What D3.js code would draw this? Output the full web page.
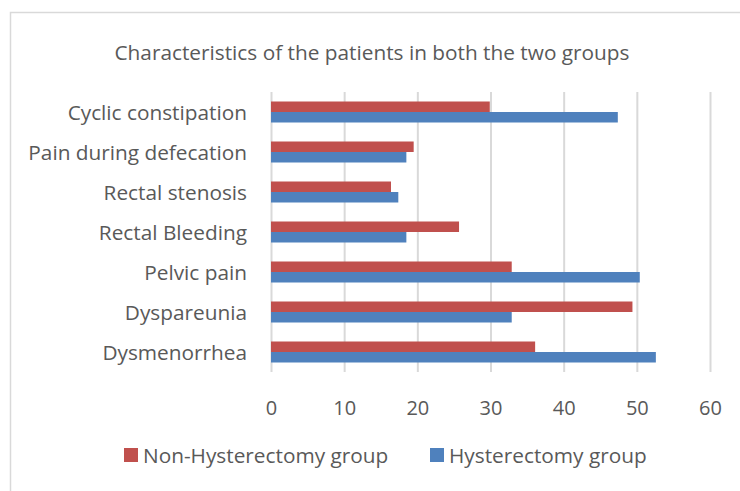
<!DOCTYPE html>
<html>
<head>
<meta charset="utf-8">
<script src="https://cdn.jsdelivr.net/npm/d3@7"></script>
<style>
  body { margin: 0; background: #fff; }
  svg text { font-family: "Open Sans", sans-serif; fill: #595959; }
</style>
</head>
<body>
<div id="chart"></div>
<script>
var categories = ["Cyclic constipation", "Pain during defecation", "Rectal stenosis",
    "Rectal Bleeding", "Pelvic pain", "Dyspareunia", "Dysmenorrhea"];
var seriesNames = ["Non-Hysterectomy group", "Hysterectomy group"];
var nonHysterectomy = [29.9, 19.5, 16.4, 25.7, 32.9, 49.4, 36.1];
var hysterectomy = [47.4, 18.5, 17.4, 18.5, 50.4, 32.9, 52.6];
var tickValues = [0, 10, 20, 30, 40, 50, 60];
var title = "Characteristics of the patients in both the two groups";

var colors = d3.scaleOrdinal()
    .domain(seriesNames)
    .range(["#C0504D", "#4F81BD"]);

var width = 740, height = 491;
var plotLeft = 271, plotRight = 710, plotTop = 92, plotBottom = 372;

var svg = d3.select("#chart").append("svg")
    .attr("width", width)
    .attr("height", height);

// chart area border (left and top only visible)
svg.append("path")
    .attr("d", "M10.5," + height + "V12.5H" + width)
    .attr("fill", "none")
    .attr("stroke", "#d9d9d9")
    .attr("stroke-width", 1.5);

svg.append("text")
    .attr("x", 372)
    .attr("y", 52)
    .attr("text-anchor", "middle")
    .attr("dominant-baseline", "central")
    .attr("font-size", "20.8px")
    .text(title);

var x = d3.scaleLinear()
    .domain([0, 60])
    .range([plotLeft, plotRight]);

var y = d3.scaleBand()
    .domain(categories)
    .range([plotTop, plotBottom])
    .paddingInner(0.475)
    .paddingOuter(0.2375);

var ySub = d3.scaleBand()
    .domain(seriesNames)
    .range([0, y.bandwidth()]);

// gridlines
var axisX = svg.append("g")
    .attr("transform", "translate(0," + plotBottom + ")")
    .call(d3.axisBottom(x).tickValues(tickValues).tickSize(plotBottom - plotTop).tickPadding(0));

axisX.select(".domain").remove();
axisX.selectAll("line")
    .attr("y1", 0)
    .attr("y2", -(plotBottom - plotTop))
    .attr("stroke", "#d9d9d9")
    .attr("stroke-width", 2);
axisX.selectAll("text")
    .attr("y", 35)
    .attr("dy", null)
    .attr("dominant-baseline", "central")
    .attr("font-size", "20px")
    .attr("font-family", "Open Sans")
    .style("fill", "#595959");

var rows = categories.map(function (c, i) {
    return { category: c, values: [nonHysterectomy[i], hysterectomy[i]] };
});

var group = svg.selectAll(".cat")
    .data(rows)
    .enter().append("g")
    .attr("class", "cat")
    .attr("transform", function (d) { return "translate(0," + y(d.category) + ")"; });

group.selectAll("rect")
    .data(function (d) {
        return seriesNames.map(function (s, j) { return { key: s, value: d.values[j] }; });
    })
    .enter().append("rect")
    .attr("x", x(0))
    .attr("y", function (d) { return ySub(d.key); })
    .attr("width", function (d) { return x(d.value) - x(0); })
    .attr("height", ySub.bandwidth())
    .attr("fill", function (d) { return colors(d.key); });

// category labels
svg.selectAll(".catLabel")
    .data(categories)
    .enter().append("text")
    .attr("class", "catLabel")
    .attr("x", 247)
    .attr("y", function (d) { return y(d) + y.bandwidth() / 2; })
    .attr("text-anchor", "end")
    .attr("dominant-baseline", "central")
    .attr("font-size", "20.8px")
    .text(function (d) { return d; });

// legend
var legendX = [124, 430];
var legend = svg.selectAll(".legend")
    .data(seriesNames)
    .enter().append("g")
    .attr("class", "legend")
    .attr("transform", function (d, i) { return "translate(" + legendX[i] + ",455)"; });

legend.append("rect")
    .attr("x", 0)
    .attr("y", -7)
    .attr("width", 14)
    .attr("height", 14)
    .attr("fill", function (d) { return colors(d); });

legend.append("text")
    .attr("x", 19)
    .attr("y", 0)
    .attr("dominant-baseline", "central")
    .attr("font-size", "20.8px")
    .text(function (d) { return d; });
</script>
</body>
</html>
